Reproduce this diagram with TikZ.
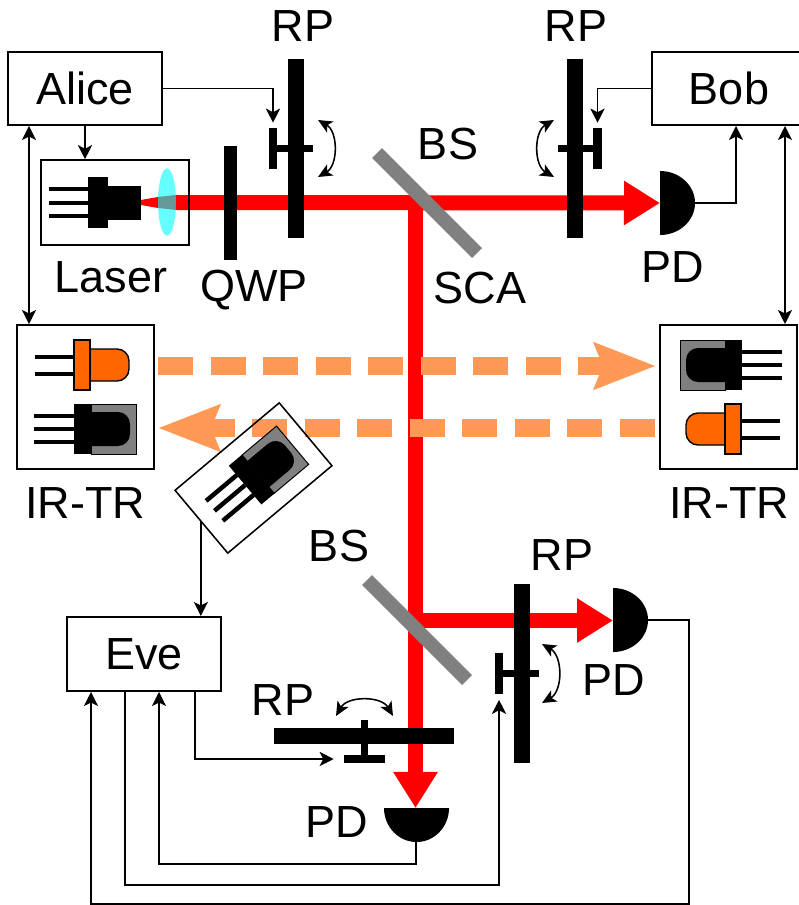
\documentclass[tikz,border=0pt]{standalone}
\usepackage{fontspec}
\setmainfont{Liberation Sans}
\usetikzlibrary{arrows.meta}
\definecolor{lenscyan}{HTML}{66FFFF}
\definecolor{lensteal}{HTML}{669999}
\definecolor{ledorange}{HTML}{FF6600}
\definecolor{irorange}{HTML}{FF9955}
\newcommand{\px}{0.025cm}
\tikzstyle{lbl}=[anchor=base,inner sep=0pt,font=\fontsize{32}{36}\selectfont]
\tikzstyle{box}=[rectangle,draw=black,line width=1.4pt,inner sep=0pt,font=\fontsize{32}{36}\selectfont]
\tikzstyle{arr}=[->,>={Stealth[length=10pt,width=10pt,inset=2.5pt]},draw=black,line width=1.2pt]
\tikzstyle{turn}=[<->,>={Stealth[length=10pt,width=9pt,inset=2.5pt]},draw=black,line width=1.1pt,looseness=1.05]
\tikzstyle{beam}=[draw=red,line width=15*\px]
\tikzstyle{irbeam}=[draw=irorange,line width=18*\px,dash pattern=on 0.875cm off 0.4375cm,-{Stealth[length=1.525cm,width=1.125cm,inset=0.2cm]}]
\tikzstyle{split}=[draw=gray,line width=14*\px]
\tikzstyle{plate}=[rectangle,fill=black,inner sep=0pt,minimum width=16*\px,minimum height=179*\px]
\tikzstyle{handle}=[rectangle,fill=black,inner sep=0pt,minimum width=8.5*\px,minimum height=41*\px]
\tikzstyle{stem}=[draw=black,line width=7*\px]
\tikzstyle{pd}=[fill=black]
\tikzset{
  irdet/.pic={
    \foreach \y in {-13,0,13} \draw[black,line width=4.5*\px] (-40,\y) -- (0,\y);
    \draw[black,line width=0.7pt,fill=gray] (17,-25) rectangle (62,25);
    \fill[black,rounded corners=0.3cm] (17,-17) -- (56,-17) -- (56,17) -- (17,17);
    \fill[black] (0,-25.3) rectangle (17,25.3);
  },
  irled/.pic={
    \foreach \y in {-8.5,8.5} \draw[black,line width=4*\px] (-39,\y) -- (0,\y);
    \draw[black,line width=1pt,fill=ledorange,rounded corners=0.3cm] (16,-16) -- (55,-16) -- (55,16) -- (16,16);
    \draw[black,line width=1pt,fill=ledorange] (0,-25) rectangle (16,25);
  }
}
\begin{document}
\begin{tikzpicture}[x=0.025cm,y=-0.025cm]
  \useasboundingbox (0,0) rectangle (798,905);
  %Coordinates
  \coordinate (SPa) at (415.5,202.5);
  \coordinate (SPb) at (415.5,620.5);
  \coordinate (PDb) at (660,203);
  \coordinate (PDc) at (613,620.5);
  \coordinate (PDd) at (415.5,808);
  \coordinate (PDbout) at (695,203);
  \coordinate (PDcout) at (648,620);
  \coordinate (PDdout) at (416,842);
  \coordinate (AliceIR) at (29,0);
  \coordinate (BobIR) at (785,0);
  \coordinate (Bobin) at (736,0);
  \coordinate (Evea) at (91,0);
  \coordinate (Eveb) at (125,0);
  \coordinate (Evec) at (159,0);
  \coordinate (Eved) at (195,0);
  \coordinate (lowa) at (0,864);
  \coordinate (lowb) at (0,885);
  \coordinate (rail) at (689,904);
  %Laser
  \fill[lenscyan] (167,202) ellipse [x radius=0.225cm,y radius=0.84cm];
  \fill[red] (141,200) -- (158,197) -- (158,208) -- (141,205) -- cycle;
  \fill[lensteal] (158,197) -- (176,195) -- (176,210) -- (158,208) -- cycle;
  \coordinate (Beamstart) at (176,202.5);
  %Beams
  \draw[beam,-{Triangle[length=0.9cm,width=1.05cm]}] (SPa) -- (PDd);
  \draw[beam,-{Triangle[length=0.9cm,width=1.05cm]}] (Beamstart) -- (PDb);
  \draw[beam,-{Triangle[length=0.9cm,width=1.05cm]}] (SPb) -- (PDc);
  \draw[irbeam] (158,366) -- (656,366);
  \draw[irbeam] (655,428) -- (158,428);
  %Splitters
  \draw[split] (377,153) -- (477,253);
  \draw[split] (367,580) -- (467,680);
  %Boxes
  \node[box,minimum width=154*\px,minimum height=73*\px] (Alice) at (85,88.5) {Alice};
  \node[box,minimum width=154*\px,minimum height=73*\px] (Bob) at (729,88.5) {Bob};
  \node[box,minimum width=154*\px,minimum height=74*\px] (Eve) at (144,654) {Eve};
  \node[box,line width=1.1pt,minimum width=148*\px,minimum height=85*\px] (Laser) at (115,202.5) {};
  \node[box,minimum width=137*\px,minimum height=144*\px] (IRa) at (85.5,397) {};
  \node[box,minimum width=137*\px,minimum height=144*\px] (IRb) at (728.75,397) {};
  \node[box,line width=1.1pt,rotate=40,minimum width=136*\px,minimum height=82*\px] (IRe) at (253.5,478) {};
  %Laser diode
  \foreach \y in {189,203,216} \draw[black,line width=4.5*\px] (49,\y) -- (88,\y);
  \fill[black] (88,177) rectangle (108,228);
  \fill[black] (108,186) rectangle (141,220);
  %IR parts
  \pic (LEDa) at (74,365) {irled};
  \pic (DETa) at (74,429) {irdet};
  \pic[xscale=-1] (DETb) at (742,365) {irdet};
  \pic[xscale=-1] (LEDb) at (741,429) {irled};
  \pic[rotate=40] (DETe) at (245.1,485.1) {irdet};
  %Plates
  \node[plate,minimum width=13*\px,minimum height=114*\px] (QWP) at (230.5,203) {};
  \node[plate] (RPa) at (296,148.5) {};
  \node[plate] (RPb) at (574.5,148.5) {};
  \node[plate] (RPc) at (521.5,673) {};
  \node[plate,minimum width=180*\px,minimum height=16*\px] (RPd) at (364,736) {};
  \node[handle] (RPaT) at (273,148.5) {};
  \node[handle] (RPbT) at (597.5,148.5) {};
  \node[handle] (RPcT) at (499,673) {};
  \node[handle,minimum width=41*\px,minimum height=8.5*\px] (RPdT) at (364.5,759) {};
  \draw[stem] (RPaT.center) -- ++(40,0);
  \draw[stem] (RPbT.center) -- ++(-40,0);
  \draw[stem] (RPcT.center) -- ++(40,0);
  \draw[stem] (RPdT.center) -- ++(0,-39);
  %Detectors
  \fill[pd] (660,171) arc [start angle=90,end angle=-90,x radius=0.875cm,y radius=0.8cm] -- cycle;
  \fill[pd] (613,588) arc [start angle=90,end angle=-90,x radius=0.875cm,y radius=0.8cm] -- cycle;
  \fill[pd] (384,808) arc [start angle=180,end angle=360,x radius=0.8125cm,y radius=0.85cm] -- cycle;
  %Lines
  \draw[arr] (Alice.south) -- (Alice.south |- Laser.north);
  \draw[arr,shorten >=5*\px] (Alice.east) -| (RPaT.north);
  \draw[arr,shorten >=5*\px] (Bob.west) -| (RPbT.north);
  \draw[arr] (PDbout) -| (Bobin |- Bob.south);
  \draw[arr,<->] (AliceIR |- Alice.south) -- (AliceIR |- IRa.north);
  \draw[arr,<->] (BobIR |- Bob.south) -- (BobIR |- IRb.north);
  \draw[arr] (IRe.west) -- (IRe.west |- Eve.north);
  \draw[arr] (PDdout) -- (PDdout |- lowa) -| (Evec |- Eve.south);
  \draw[arr,shorten >=6*\px] (Eveb |- Eve.south) -- (Eveb |- lowb) -| (RPcT.south);
  \draw[arr] (PDcout) -| (rail) -| (Evea |- Eve.south);
  \draw[arr,shorten >=10*\px] (Eved |- Eve.south) |- (RPdT.west);
  %Turns
  \coordinate (TUa) at (318,120);
  \coordinate (TUb) at (318,177);
  \coordinate (TUc) at (554,120);
  \coordinate (TUd) at (554,177);
  \coordinate (TUe) at (542,644);
  \coordinate (TUf) at (542,703);
  \coordinate (TUg) at (336,716);
  \coordinate (TUh) at (393,716);
  \draw[turn] (TUa) to[bend left=60] (TUb);
  \draw[turn] (TUc) to[bend right=60] (TUd);
  \draw[turn] (TUe) to[bend left=60] (TUf);
  \draw[turn] (TUg) to[bend left=60] (TUh);
  %Labels
  \node[lbl] (RPaL) at (303,42) {RP};
  \node[lbl] (RPbL) at (576,42) {RP};
  \node[lbl] (RPcL) at (562,570) {RP};
  \node[lbl] (RPdL) at (283,715) {RP};
  \node[lbl] (BSa) at (448,160) {BS};
  \node[lbl] (BSb) at (339,561) {BS};
  \node[lbl] (SCA) at (480,304) {SCA};
  \node[lbl] (QWPL) at (254,302) {QWP};
  \node[lbl] (LaserL) at (111,293) {Laser};
  \node[lbl] (PDbL) at (673,283) {PD};
  \node[lbl] (PDcL) at (614,695) {PD};
  \node[lbl] (PDdL) at (337,837) {PD};
  \node[lbl] (IRaL) at (85,518) {IR-TR};
  \node[lbl] (IRbL) at (729,518) {IR-TR};
\end{tikzpicture}
\end{document}
